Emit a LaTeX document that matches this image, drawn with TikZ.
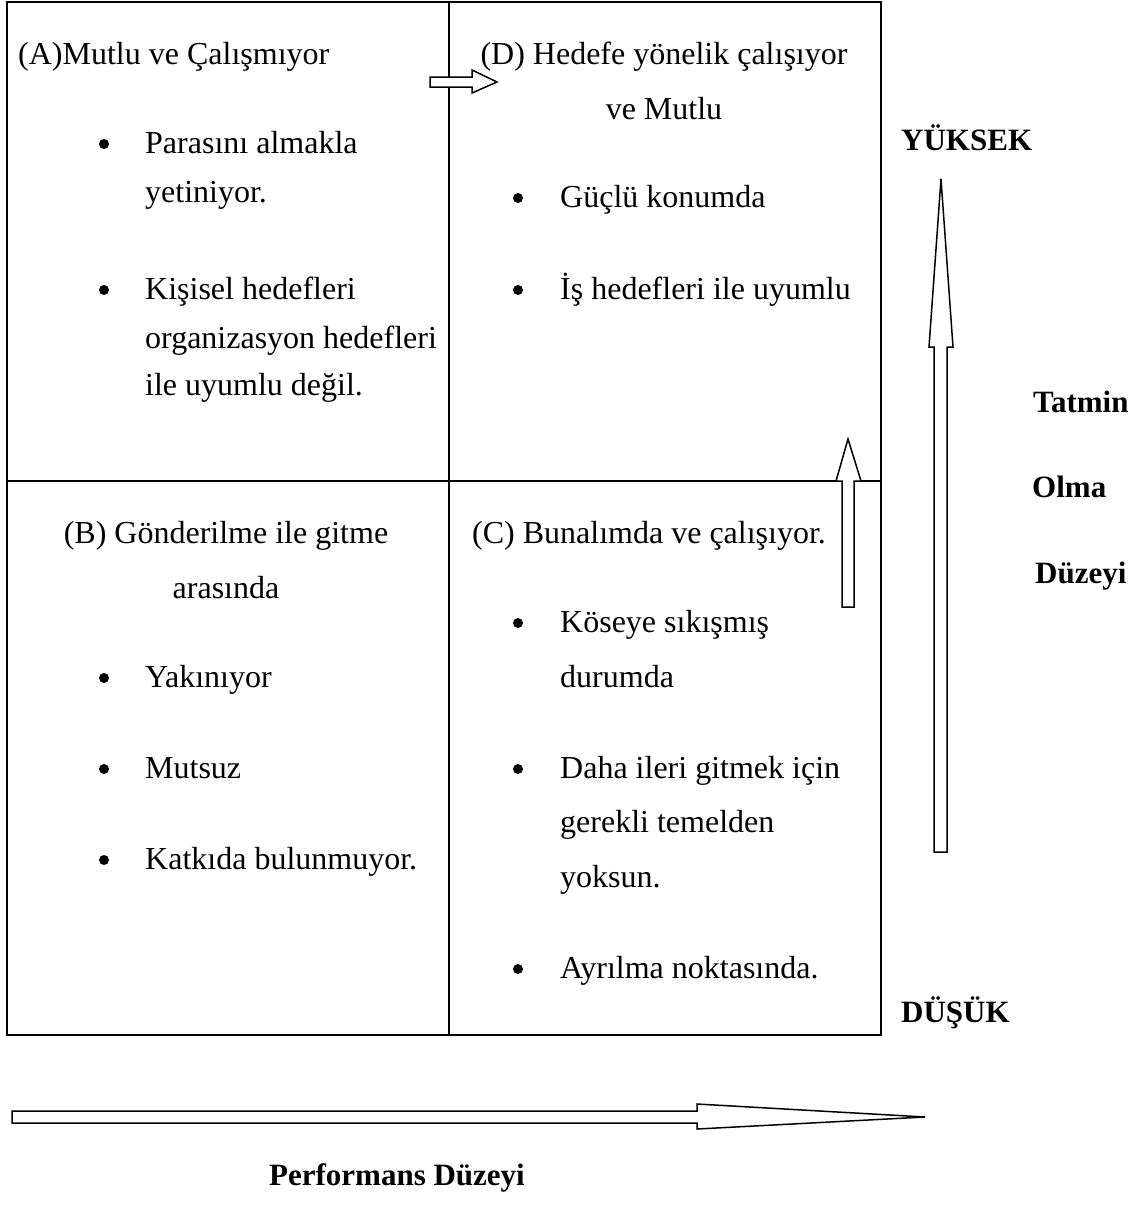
\documentclass[tikz,border=0pt]{standalone}
\usepackage{fontspec}
\setmainfont{Liberation Serif}
\begin{document}
\begin{tikzpicture}[x=1pt,y=-1pt,
  txt/.style={anchor=base west,inner sep=0pt,font=\fontsize{32}{38}\selectfont},
  ctxt/.style={anchor=base,inner sep=0pt,font=\fontsize{32}{38}\selectfont},
  lbl/.style={anchor=base west,inner sep=0pt,font=\fontsize{31}{38}\selectfont\bfseries},
  clbl/.style={anchor=base,inner sep=0pt,font=\fontsize{31}{38}\selectfont\bfseries},
  frame/.style={line width=2.2pt},
  blockarrow/.style={draw,fill=white,line width=1.5pt,line join=miter},
  bul/.style={fill,circle,inner sep=0pt,minimum size=10pt}]
\useasboundingbox (0,0) rectangle (1144,1207);

% grid
\draw[frame] (7,2) rectangle (881,1035);
\coordinate (vt) at (449,2); \coordinate (vb) at (449,1035);
\coordinate (hl) at (7,481); \coordinate (hr) at (881,481);
\draw[frame] (vt) -- (vb);
\draw[frame] (hl) -- (hr);

% quadrant A
\node[txt] (A0) at (18,64) {(A)Mutlu ve Çalışmıyor};
\node[bul] (Ab1) at (104,144) {};
\node[txt] (A1) at (145,153) {Parasını almakla};
\node[txt] (A2) at (145,202) {yetiniyor.};
\node[bul] (Ab2) at (104,290) {};
\node[txt] (A3) at (145,299) {Kişisel hedefleri};
\node[txt] (A4) at (145,348) {organizasyon hedefleri};
\node[txt] (A5) at (145,395) {ile uyumlu değil.};

% quadrant D
\node[ctxt] (D0) at (664,64) {(D) Hedefe yönelik çalışıyor};
\node[ctxt] (D1) at (664,119) {ve Mutlu};
\node[bul] (Db1) at (518,198) {};
\node[txt] (D2) at (560,207) {Güçlü konumda};
\node[bul] (Db2) at (518,290) {};
\node[txt] (D3) at (560,299) {İş hedefleri ile uyumlu};

% quadrant B
\node[ctxt] (B0) at (226,543) {(B) Gönderilme ile gitme};
\node[ctxt] (B1) at (226,598) {arasında};
\node[bul] (Bb1) at (104,678) {};
\node[txt] (B2) at (145,687) {Yakınıyor};
\node[bul] (Bb2) at (104,769) {};
\node[txt] (B3) at (145,778) {Mutsuz};
\node[bul] (Bb3) at (104,860) {};
\node[txt] (B4) at (145,869) {Katkıda bulunmuyor.};

% quadrant C
\node[txt] (C0) at (472,543) {(C) Bunalımda ve çalışıyor.};
\node[bul] (Cb1) at (518,623) {};
\node[txt] (C1) at (560,632) {Köseye sıkışmış};
\node[txt] (C2) at (560,687) {durumda};
\node[bul] (Cb2) at (518,769) {};
\node[txt] (C3) at (560,778) {Daha ileri gitmek için};
\node[txt] (C4) at (560,832) {gerekli temelden};
\node[txt] (C5) at (560,887) {yoksun.};
\node[bul] (Cb3) at (518,969) {};
\node[txt] (C6) at (560,978) {Ayrılma noktasında.};

% block arrows
\draw[blockarrow] (430,77) -- (472,77) -- (472,70) -- (497,82) -- (472,93) -- (472,87) -- (430,87) -- cycle;
\draw[blockarrow] (842,607) -- (842,481) -- (836,481) -- (848,439) -- (861,481) -- (854,481) -- (854,607) -- cycle;
\draw[blockarrow] (934,852) -- (934,347) -- (929,347) -- (941,179) -- (953,347) -- (947,347) -- (947,852) -- cycle;
\draw[blockarrow] (12,1111) -- (697,1111) -- (697,1104) -- (925,1117) -- (697,1129) -- (697,1123) -- (12,1123) -- cycle;

% labels
\node[lbl] (yuk) at (901,150) {YÜKSEK};
\node[lbl] (tat) at (1033,412) {Tatmin};
\node[lbl] (olm) at (1032,497) {Olma};
\node[lbl] (duz) at (1035,583) {Düzeyi};
\node[lbl] (dus) at (901,1022) {DÜŞÜK};
\node[clbl] (perf) at (397,1185) {Performans Düzeyi};
\end{tikzpicture}
\end{document}
